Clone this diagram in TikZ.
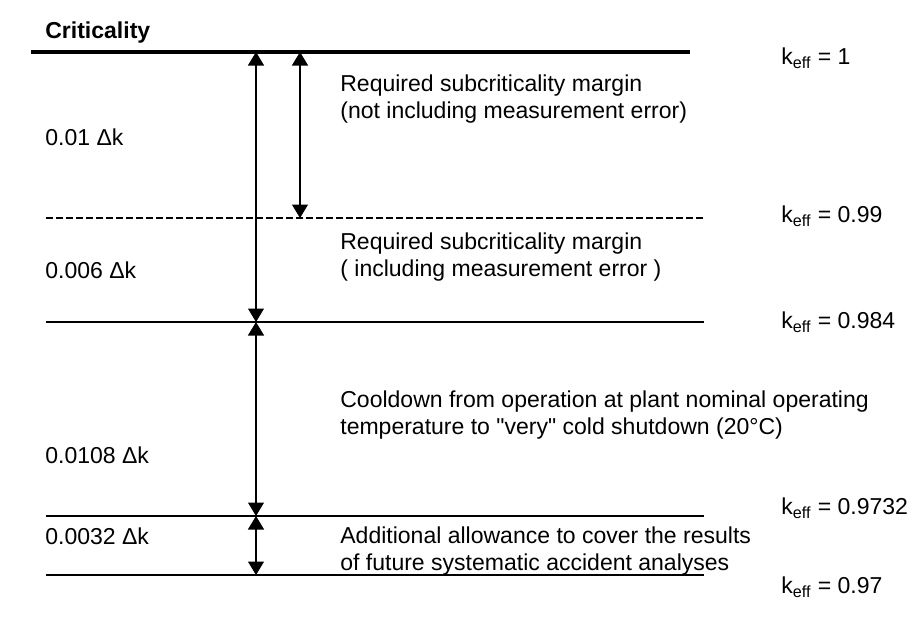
\documentclass[tikz,border=0pt]{standalone}
\usepackage{fontspec}
\setmainfont{Liberation Sans}[Ligatures=TeXOff]
\usetikzlibrary{arrows.meta}
\usetikzlibrary{positioning}
\tikzset{
  level/.style={line width=0.9pt},
  margin/.style={line width=0.6pt,{Triangle[width=0.32cm,length=0.27cm]}-{Triangle[width=0.32cm,length=0.27cm]}},
  lbl/.style={anchor=west,inner sep=0pt,font=\fontsize{13.1}{15}\selectfont,align=left},
}
\begin{document}
\begin{tikzpicture}[line cap=butt,line join=round,x=0.02cm,y=-0.02cm]
\clip(0,0) rectangle (918,636);
\fill [white] (0,0) rectangle (918,636);
% levels
\coordinate (c1) at (31,52);   \coordinate (c2) at (690,52);
\coordinate (d1) at (46,218);  \coordinate (d2) at (704,218);
\coordinate (e1) at (46,322);  \coordinate (e2) at (704,322);
\coordinate (f1) at (46,516);  \coordinate (f2) at (704,516);
\coordinate (g1) at (46,575);  \coordinate (g2) at (704,575);
\draw [line width=2.3pt] (c1)-- (c2);
\draw [level,dash pattern=on 0.14cm off 0.06cm] (d1)-- (d2);
\draw [level] (e1)-- (e2);
\draw [level] (f1)-- (f2);
\draw [level] (g1)-- (g2);
% margins
\coordinate (a1) at (256,52);  \coordinate (a2) at (256,322);
\coordinate (a3) at (256,516); \coordinate (a4) at (256,575);
\coordinate (b1) at (300,52);  \coordinate (b2) at (300,218);
\draw [margin] (a1)-- (a2);
\draw [margin] (a2)-- (a3);
\draw [margin] (a3)-- (a4);
\draw [margin] (b1)-- (b2);
% labels
\node [lbl,font=\fontsize{13.1}{15}\selectfont\bfseries] (crit) at (45,33) {Criticality};
\node [lbl] (dk1) at (45,137) {0.01 Δk};
\node [lbl] (dk2) at (45,270) {0.006 Δk};
\node [lbl] (dk3) at (45,455) {0.0108 Δk};
\node [lbl] (dk4) at (45,536) {0.0032 Δk};
\node [lbl] (txt1) at (340,99) {Required subcriticality margin\\(not including measurement error)};
\node [lbl] (txt2) at (340,257) {Required subcriticality margin\\( including measurement error )};
\node [lbl] (txt3) at (340,415) {Cooldown from operation at plant nominal operating\\temperature to "very" cold shutdown (20°C)};
\node [lbl] (txt4) at (340,551) {Additional allowance to cover the results\\of future systematic accident analyses};
\node [lbl] (k1) at (781,58) {k\textsubscript{eff} = 1};
\node [lbl] (k2) at (781,216) {k\textsubscript{eff} = 0.99};
\node [lbl] (k3) at (781,322) {k\textsubscript{eff} = 0.984};
\node [lbl] (k4) at (781,508) {k\textsubscript{eff} = 0.9732};
\node [lbl] (k5) at (781,587) {k\textsubscript{eff} = 0.97};
\end{tikzpicture}
\end{document}
